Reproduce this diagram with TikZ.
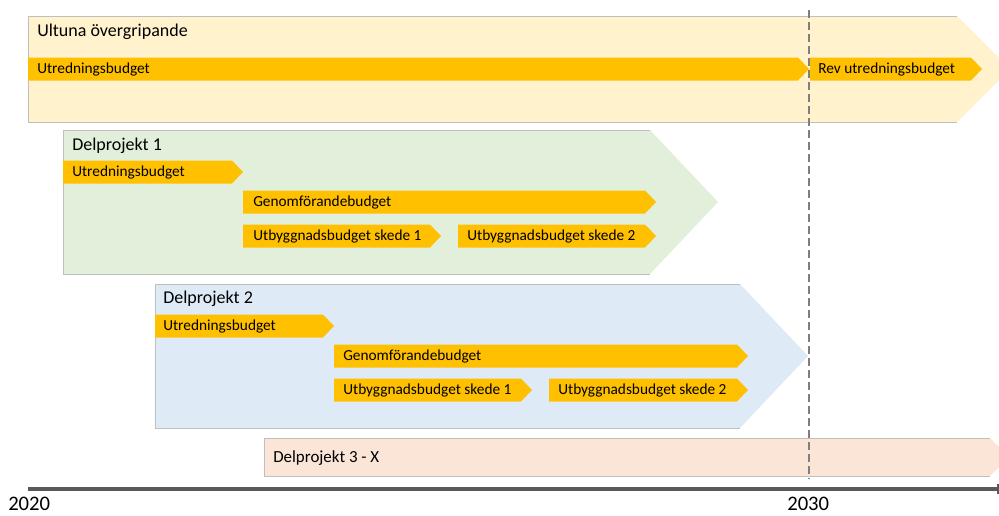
\documentclass[tikz,border=0pt]{standalone}
\usepackage{fontspec}
\setmainfont{Carlito}
\definecolor{ultfill}{HTML}{FFF2CC}
\definecolor{dpafill}{HTML}{E2EFDA}
\definecolor{dpbfill}{HTML}{DEEBF7}
\definecolor{dpcfill}{HTML}{FBE5D6}
\definecolor{barcol}{HTML}{FFC000}
\definecolor{edgecol}{HTML}{BFBFBF}
\definecolor{dashcol}{HTML}{7F7F7F}
\definecolor{axiscol}{HTML}{595959}
\newcommand\budgetbar[3]{\fill[barcol] (#1,{#3-11.5}) -- (#2,{#3-11.5}) -- ({#2+11},#3) -- (#2,{#3+11.5}) -- (#1,{#3+11.5}) -- cycle;}
\begin{document}
\begin{tikzpicture}[x=0.75pt,y=-0.75pt,
  boxedge/.style={draw=edgecol,line width=0.6pt},
  barlabel/.style={anchor=west,inner sep=0pt,yshift=-0.9pt,font=\fontsize{11.5}{13}\selectfont,text height=1.5ex,text depth=.35ex},
  boxtitle/.style={anchor=west,inner sep=0pt,yshift=-0.9pt,font=\fontsize{13.5}{16}\selectfont,text height=1.5ex,text depth=.35ex},
  yearlabel/.style={anchor=west,inner sep=0pt,font=\fontsize{15.5}{18}\selectfont,text height=1.5ex,text depth=.35ex}]
\useasboundingbox (0,0) rectangle (999,515);
\begin{scope}
\clip (0,0) rectangle (999,515);
% Ultuna
\fill[ultfill] (28,16) -- (957,16) -- (1010,69) -- (957,122) -- (28,122) -- cycle;
\draw[boxedge] (957,16) -- (28,16) -- (28,122) -- (957,122);
\node[boxtitle] (ult) at (37,32) {Ultuna övergripande};
\budgetbar{28}{798}{69}
\node[barlabel] (ultutr) at (37,69) {Utredningsbudget};
\budgetbar{810}{971}{69}
\node[barlabel] (ultrev) at (818,69) {Rev utredningsbudget};
% Delprojekt 1
\fill[dpafill] (63,130) -- (650,130) -- (718,202) -- (650,274) -- (63,274) -- cycle;
\draw[boxedge] (650,130) -- (63,130) -- (63,274) -- (650,274);
\node[boxtitle] (dpa) at (72,146) {Delprojekt 1};
\budgetbar{63}{232}{172}
\node[barlabel] (dpautr) at (72,172) {Utredningsbudget};
\budgetbar{243}{645}{202}
\node[barlabel] (dpagen) at (253,202) {Genomförandebudget};
\budgetbar{243}{430}{236}
\node[barlabel] (dpaskA) at (253,236) {Utbyggnadsbudget skede 1};
\budgetbar{458}{645}{236}
\node[barlabel] (dpaskB) at (467,236) {Utbyggnadsbudget skede 2};
% Delprojekt 2
\fill[dpbfill] (155,284) -- (740,284) -- (808,356) -- (740,428) -- (155,428) -- cycle;
\draw[boxedge] (740,284) -- (155,284) -- (155,428) -- (740,428);
\node[boxtitle] (dpb) at (163,299) {Delprojekt 2};
\budgetbar{155}{323}{326}
\node[barlabel] (dpbutr) at (163,326) {Utredningsbudget};
\budgetbar{334}{737}{356}
\node[barlabel] (dpbgen) at (343,356) {Genomförandebudget};
\budgetbar{334}{521}{390}
\node[barlabel] (dpbskA) at (343,390) {Utbyggnadsbudget skede 1};
\budgetbar{549}{737}{390}
\node[barlabel] (dpbskB) at (558,390) {Utbyggnadsbudget skede 2};
% Delprojekt 3 - X
\fill[dpcfill] (264,438) -- (990,438) -- (1009,457) -- (990,476) -- (264,476) -- cycle;
\draw[boxedge] (990,438) -- (264,438) -- (264,476) -- (990,476);
\node[anchor=west,inner sep=0pt,yshift=-0.9pt,font=\fontsize{12.7}{15}\selectfont,text height=1.5ex,text depth=.35ex] (dpc) at (273,458) {Delprojekt 3 - X};
% dashed 2030 line
\coordinate (dtop) at (809,10);
\coordinate (dbot) at (809,479);
\draw[dashcol,line width=1.6pt,dash pattern=on 6pt off 3pt] (dtop) -- (dbot);
% timeline
\coordinate (tl) at (28,489);
\coordinate (tr) at (999,489);
\draw[axiscol,line width=2.3pt] (tl) -- (tr);
\coordinate (tka) at (998,484);
\coordinate (tkb) at (998,494);
\draw[axiscol,line width=0.9pt] (tka) -- (tkb);
\end{scope}
\node[yearlabel] (ya) at (8,507) {2020};
\node[yearlabel] (yb) at (787,507) {2030};
\end{tikzpicture}
\end{document}
